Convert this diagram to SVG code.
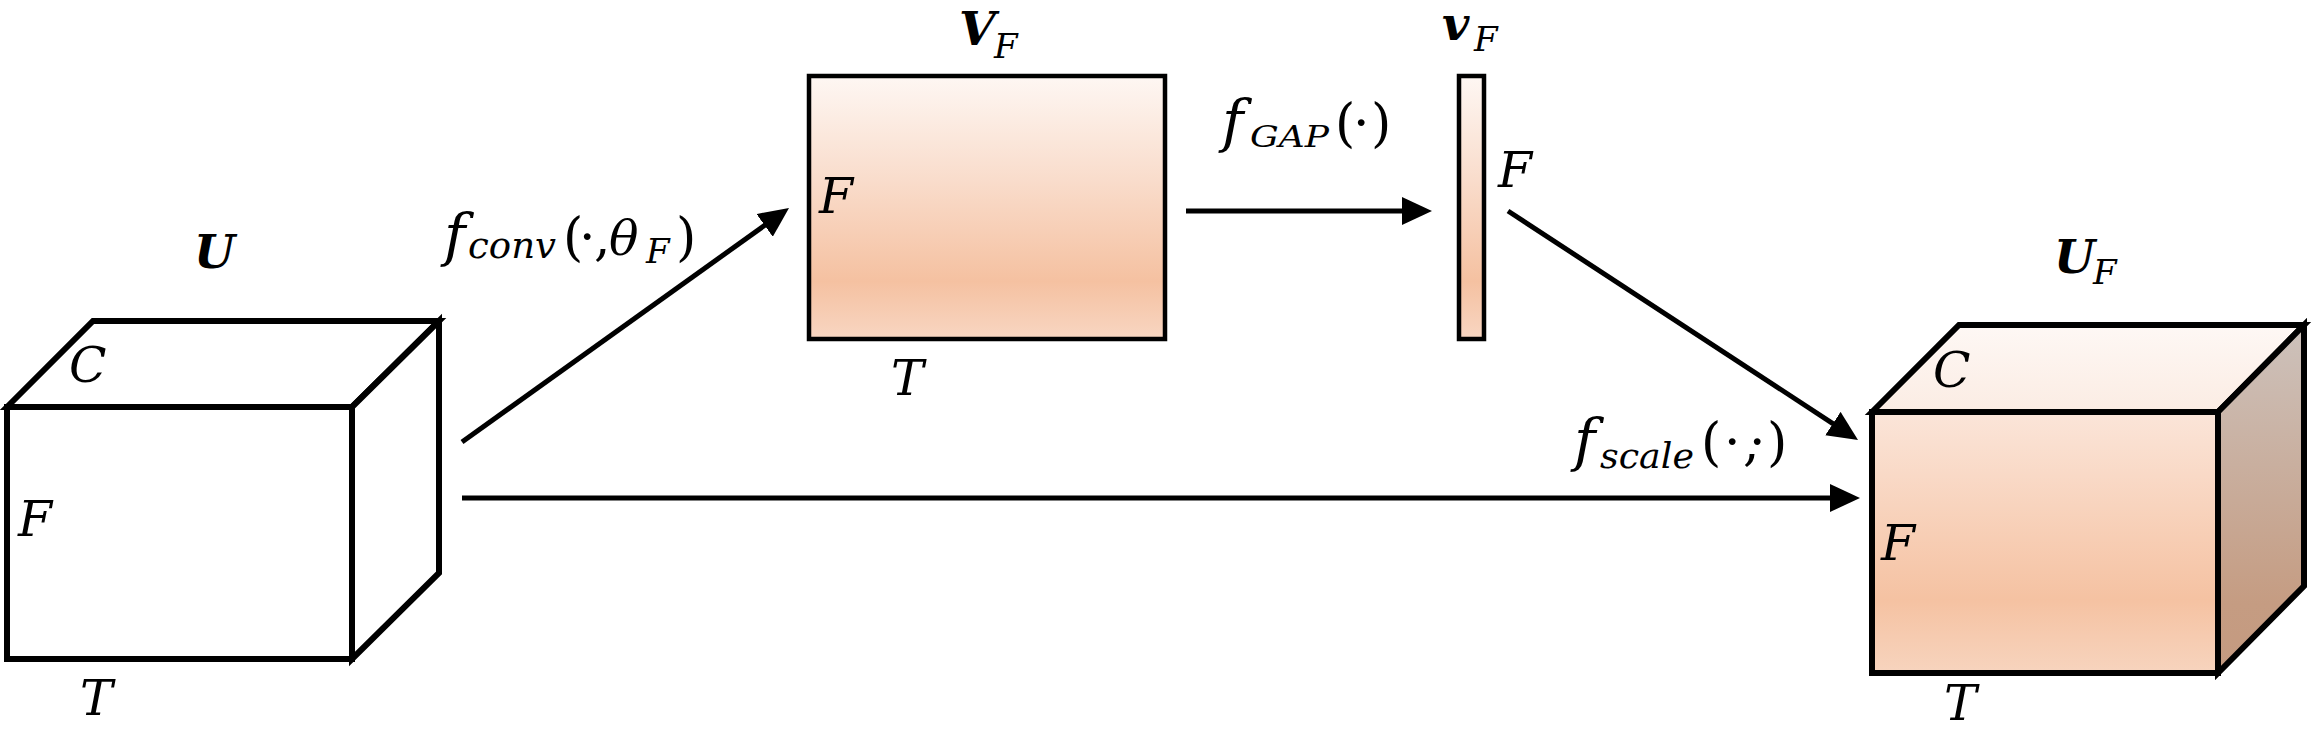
<svg xmlns="http://www.w3.org/2000/svg" width="2312" height="738" viewBox="0 0 2312 738">
<style>
.m{font-family:"DejaVu Serif","Liberation Serif",serif;font-style:italic;fill:#000}
.L{font-size:49px}
.P{font-size:52px;font-style:normal}
.f{font-size:58px}
.b{font-weight:bold;font-size:47px}
.s{font-size:34px}
.ln{stroke:#000;stroke-width:5;fill:none}
.edge{stroke:#000;stroke-width:6;stroke-linejoin:miter}
.thin{stroke:#000;stroke-width:4.5}
</style>
<defs>
<linearGradient id="gFront" x1="0" y1="0" x2="0" y2="1">
<stop offset="0" stop-color="#fef7f3"/>
<stop offset="0.4" stop-color="#f9dccb"/>
<stop offset="0.78" stop-color="#f5c1a1"/>
<stop offset="1" stop-color="#f8d6c2"/>
</linearGradient>
<linearGradient id="gCubeFront" x1="0" y1="0" x2="0" y2="1">
<stop offset="0" stop-color="#fbe5d9"/>
<stop offset="0.72" stop-color="#f5c2a2"/>
<stop offset="1" stop-color="#f7d4be"/>
</linearGradient>
<linearGradient id="gTop" x1="0" y1="0" x2="0" y2="1">
<stop offset="0" stop-color="#fef8f5"/>
<stop offset="1" stop-color="#fbece3"/>
</linearGradient>
<linearGradient id="gSide" x1="0" y1="0" x2="0" y2="1">
<stop offset="0" stop-color="#cdc2bc"/>
<stop offset="0.8" stop-color="#c59c82"/>
<stop offset="1" stop-color="#c49a80"/>
</linearGradient>
<marker id="arr" markerUnits="userSpaceOnUse" markerWidth="32" markerHeight="30" refX="5" refY="14" orient="auto" viewBox="0 0 32 30">
<path d="M0,0 L30,14 L0,28 z" fill="#000"/>
</marker>
</defs>

<g id="cubeU">
<polygon class="edge" fill="#fff" points="7,407 93,321 439,321 352,407"/>
<polygon class="edge" fill="#fff" points="352,407 439,321 439,573 352,659"/>
<rect class="edge" fill="#fff" x="7" y="407" width="345" height="252"/>
<text class="m b" x="194" y="268">U</text>
<text class="m L" x="69" y="382">C</text>
<text class="m L" x="18" y="536">F</text>
<text class="m L" x="80" y="715">T</text>
</g>

<g id="matVF">
<rect class="thin" fill="url(#gFront)" x="809" y="76" width="356" height="263"/>
<text class="m L" x="819" y="213">F</text>
<text class="m L" x="891" y="395">T</text>
<text class="m"><tspan class="b" x="959" y="45">V</tspan><tspan class="s" x="994" y="58">F</tspan></text>
</g>

<g id="vecvF">
<rect class="thin" fill="url(#gFront)" x="1459" y="76" width="25" height="263"/>
<text class="m L" x="1498" y="187">F</text>
<text class="m"><tspan class="b" font-size="43" x="1442" y="40">v</tspan><tspan class="s" x="1474" y="51">F</tspan></text>
</g>

<g id="cubeUF">
<polygon class="edge" fill="url(#gTop)" points="1872,412 1959,325 2304,325 2218,412"/>
<polygon class="edge" fill="url(#gSide)" points="2218,412 2304,325 2304,586 2218,673"/>
<rect class="edge" fill="url(#gCubeFront)" x="1872" y="412" width="346" height="261"/>
<text class="m"><tspan class="b" x="2054" y="273">U</tspan><tspan class="s" x="2093" y="284">F</tspan></text>
<text class="m L" x="1933" y="387">C</text>
<text class="m L" x="1881" y="560">F</text>
<text class="m L" x="1944" y="720">T</text>
</g>

<g id="connectors">
<line class="ln" x1="462" y1="442" x2="768.7" y2="222.5" marker-end="url(#arr)"/>
<line class="ln" x1="462" y1="498" x2="1835" y2="498" marker-end="url(#arr)"/>
<line class="ln" x1="1186" y1="211" x2="1407" y2="211" marker-end="url(#arr)"/>
<line class="ln" x1="1508" y1="211" x2="1837.1" y2="426.3" marker-end="url(#arr)"/>
</g>

<g id="labelConv">
<text class="m"><tspan class="f" x="444" y="255">f</tspan><tspan font-size="38" x="468" y="258" textLength="88" lengthAdjust="spacingAndGlyphs">conv</tspan><tspan class="P" x="563" y="255">(</tspan><tspan class="P" x="579" y="255">·</tspan><tspan class="P" x="594" y="255">,</tspan><tspan class="L" x="609" y="255">θ</tspan><tspan class="s" x="646" y="263">F</tspan><tspan class="P" x="676" y="255">)</tspan></text>
</g>

<g id="labelGAP">
<text class="m"><tspan class="f" x="1222" y="141">f</tspan><tspan font-size="30" x="1250" y="147" textLength="79" lengthAdjust="spacingAndGlyphs">GAP</tspan><tspan class="P" x="1335" y="141">(</tspan><tspan class="P" x="1353" y="141">·</tspan><tspan class="P" x="1371" y="141">)</tspan></text>
</g>

<g id="labelScale">
<text class="m"><tspan class="f" x="1574" y="460">f</tspan><tspan font-size="36" x="1600" y="468" textLength="94" lengthAdjust="spacingAndGlyphs">scale</tspan><tspan class="P" x="1701 1724 1743 1749 1767" y="460">(·,·)</tspan></text>
</g>
</svg>
